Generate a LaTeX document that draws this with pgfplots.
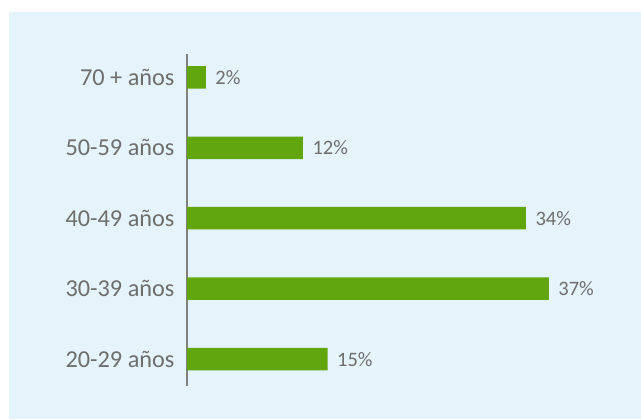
\documentclass[border=0pt]{standalone}
\usepackage{pgfplots}
\pgfplotsset{compat=1.18}
\usepackage{fontspec}
\setmainfont{Carlito}
\definecolor{bg}{HTML}{E5F3FB}
\definecolor{bargreen}{HTML}{62A60F}
\definecolor{txt}{HTML}{6E6E6E}
\definecolor{axisgray}{HTML}{808080}
\begin{document}
\begin{tikzpicture}[x=1bp,y=1bp]
\path[fill=white] (0,0) rectangle (641,419);
\fill[bg] (9,0) rectangle (641,407);
\begin{axis}[
  at={(187bp,33bp)}, anchor=south west,
  scale only axis,
  width=391.2bp, height=332bp,
  xmin=0, xmax=40,
  ymin=-0.38, ymax=4.33,
  xbar, bar width=22.5bp,
  axis x line=none,
  axis y line*=left,
  y axis line style={draw=axisgray, line width=1.6bp, -},
  ytick={0,1,2,3,4},
  yticklabels={20-29 años,30-39 años,40-49 años,50-59 años,70 + años},
  major tick length=0pt,
  yticklabel style={text=txt, font=\fontsize{24.3bp}{29bp}\selectfont, xshift=-9bp},
  point meta=explicit symbolic,
  nodes near coords={\pgfplotspointmeta},
  nodes near coords style={text=txt, font=\fontsize{20.5bp}{24bp}\selectfont, anchor=west, xshift=6bp},
  clip=false,
]
\addplot[fill=bargreen, draw=none] table[meta=label] {
x y label
14.38 0 15\%
37.0 1 37\%
34.66 2 34\%
11.86 3 12\%
1.94 4 2\%
};
\end{axis}
\end{tikzpicture}
\end{document}
